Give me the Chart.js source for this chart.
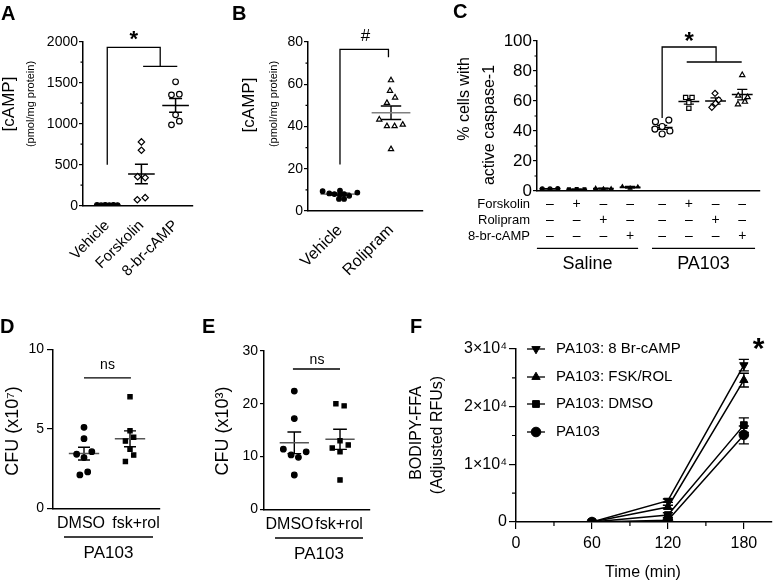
<!DOCTYPE html>
<html>
<head>
<meta charset="utf-8">
<script src="https://cdn.jsdelivr.net/npm/chart.js@4.4.6/dist/chart.umd.min.js"></script>
<style>
  html, body { margin: 0; padding: 0; background: #fff; }
  #wrap { position: relative; width: 777px; height: 582px; overflow: hidden; }
  #wrap canvas { position: absolute; left: 0; top: 0; }
</style>
</head>
<body>
<div id="wrap"></div>
<script>
// ---- data ----
// A: cAMP after forskolin / 8-br-cAMP
const A_CATS = ['Vehicle', 'Forskolin', '8-br-cAMP'];
const A_VEHICLE = [8, 5, 10, 6, 9, 7];
const A_VEHICLE_JIT = [-0.3, -0.18, -0.06, 0.06, 0.18, 0.3];
const A_FSK = [778, 676, 354, 342, 73, 98];
const A_FSK_JIT = [0, 0, -0.11, 0.11, -0.12, 0.11];
const A_BR = [1511, 1352, 1360, 1108, 986, 1031];
const A_BR_JIT = [0, -0.12, 0.11, 0, -0.12, 0.11];
const A_MEAN = [7, 387, 1223];
const A_SEM = [1, 118, 84];
const A_YTICKS = [0, 500, 1000, 1500, 2000];
const A_YMINOR = [250, 750, 1250, 1750];
const A_BRACKET = [{x: 1, y: 500}, {x: 1, y: 1930}, {x: 2.55, y: 1930}, {x: 2.55, y: 1700},
  {x: 1, y: null}, {x: 2.05, y: 1700}, {x: 3.05, y: 1700}];

// B: rolipram
const B_CATS = ['Vehicle', 'Rolipram'];
const B_VEH = [9.4, 8.3, 8.0, 9.6, 7.6, 8.0, 7.2, 5.7, 5.7, 8.7];
const B_VEH_JIT = [-0.34, -0.21, -0.11, 0, 0, 0.08, 0.18, 0.08, -0.02, 0.34];
const B_ROL = [61.9, 56.9, 53.7, 51.2, 43.3, 40.2, 40.2, 40.9, 29.3];
const B_ROL_JIT = [0, -0.02, 0.08, -0.08, -0.23, -0.08, 0.07, 0.23, 0];
const B_MEAN = [8.0, 46.5];
const B_SEM = [0.4, 3.2];
const B_YTICKS = [0, 20, 40, 60, 80];
const B_YMINOR = [10, 30, 50, 70];
const B_BRACKET = [{x: 1, y: 22}, {x: 1, y: 76.5}, {x: 1.95, y: 76.5}, {x: 1.95, y: 72.8}];

// C: % cells with active caspase-1
const C_POS = [0, 1, 2, 3, 4.2, 5.2, 6.2, 7.2];
const C_VALUES = [
  [1.5, 1.4, 1.6], [1.1, 1.3, 1.2], [1.8, 1.4, 1.5], [2.9, 1.9, 2.7],
  [46.2, 47.3, 41.3, 40.0, 38.0, 43.0], [62.4, 62.4, 58.9, 55.1],
  [65.1, 60.7, 58.4, 55.8], [77.3, 63.6, 62.6, 57.8, 59.5],
];
const C_JIT = [
  [-0.29, 0, 0.29], [-0.29, 0, 0.29], [-0.29, 0, 0.29], [-0.29, 0, 0.29],
  [-0.25, 0.25, -0.27, 0.29, 0, 0], [-0.12, 0.12, 0, 0],
  [-0.02, 0.12, 0, -0.14], [0, -0.15, 0.2, -0.16, 0.1],
];
const C_MEAN = [1.5, 1.2, 1.6, 2.5, 42.4, 59.7, 60.0, 64.3];
const C_SEM = [0.1, 0.1, 0.3, 0.6, 1.3, 1.8, 2.1, 3.5];
const C_STYLES = ['circle', 'rect', 'triangle', 'triangle', 'circle', 'rect', 'rectRot', 'triangle'];
const C_FSK = ['–', '+', '–', '–', '–', '+', '–', '–'];
const C_ROL = ['–', '–', '+', '–', '–', '–', '+', '–'];
const C_BR = ['–', '–', '–', '+', '–', '–', '–', '+'];
const C_YTICKS = [0, 20, 40, 60, 80, 100];
const C_YMINOR = [10, 30, 50, 70, 90];
const C_BRACKET = [{x: 4.2, y: 48.7}, {x: 4.2, y: 96}, {x: 6.22, y: 96}, {x: 6.22, y: 86},
  {x: 4.2, y: null}, {x: 5.12, y: 86}, {x: 7.18, y: 86}];

// D / E: CFU
const DE_CATS = ['DMSO', 'fsk+rol'];
const D_LABEL_AT = [0.935, 2.13];
const E_LABEL_AT = [0.895, 1.98];
const D_DMSO = [5.09, 4.38, 3.40, 3.56, 3.19, 2.10, 2.29];
const D_DMSO_JIT = [0, 0, -0.16, 0.17, 0, -0.09, 0.08];
const D_FR = [7.02, 4.88, 4.23, 4.47, 3.71, 3.35, 2.94];
const D_FR_JIT = [0, 0, -0.1, 0.08, 0, 0.08, -0.1];
const D_MEAN = [3.44, 4.37];
const D_SEM = [0.40, 0.50];
const D_YTICKS = [0, 5, 10];
const E_DMSO = [22.4, 17.2, 11.4, 10.9, 10.3, 9.85, 6.5];
const E_DMSO_JIT = [0, 0, -0.24, 0.26, -0.07, 0.09, 0];
const E_FR = [20.0, 19.6, 13.0, 11.6, 12.2, 10.9, 5.56];
const E_FR_JIT = [-0.09, 0.09, 0, -0.17, 0.18, 0, 0];
const E_MEAN = [12.6, 13.26];
const E_SEM = [2.05, 1.9];
const E_YTICKS = [0, 10, 20, 30];

// F: BODIPY-FFA time course
const F_TIME = [60, 120, 180];
const F_NAMES = ['PA103: 8 Br-cAMP', 'PA103: FSK/ROL', 'PA103: DMSO', 'PA103'];
const F_BR = [0, 3700, 27200];
const F_FSK = [0, 2600, 24600];
const F_DMSO = [0, 1200, 16800];
const F_PA = [0, 300, 15100];
const F_BR_SEM = [0, 300, 1000];
const F_FSK_SEM = [0, 300, 1200];
const F_DMSO_SEM = [0, 400, 1250];
const F_PA_SEM = [0, 200, 1550];
const F_XTICKS = [0, 60, 120, 180];
const F_XMINOR = [30, 90, 150];
const F_YTICKS = [0, 10000, 20000, 30000];
const F_YMINOR = [5000, 15000, 25000];

// ---- helpers ----
const FONT = "'Liberation Sans', Arial, sans-serif";
const W = 777, H = 582;
const wrap = document.getElementById('wrap');

function makeChart(area, yW, xH, config) {
  const c = document.createElement('canvas');
  c.width = W; c.height = H;
  wrap.appendChild(c);
  config.options.responsive = false;
  config.options.animation = false;
  config.options.devicePixelRatio = 1;
  config.options.layout = { padding: { left: area.l - yW, top: area.t, right: W - area.r, bottom: H - area.b - xH } };
  config.options.plugins = { legend: { display: false }, tooltip: { enabled: false }, colors: { enabled: false } };
  return new Chart(c, config);
}

function yAxis(min, max, ticks, o) {
  return {
    type: 'linear', min, max,
    afterBuildTicks: (s) => { s.ticks = ticks.map((value) => ({ value })); },
    afterFit: (s) => { s.width = o.w; },
    border: { color: '#000', width: 1.5 },
    grid: { drawOnChartArea: false, tickLength: o.tick, color: '#000', lineWidth: 1.2 },
    ticks: { color: '#000', font: { family: FONT, size: o.size }, padding: o.pad,
      callback: o.fmt || ((v) => String(v)) },
  };
}

function xAxis(min, max, ticks, labels, o) {
  return {
    type: 'linear', min, max,
    afterBuildTicks: (s) => { s.ticks = ticks.map((value) => ({ value })); },
    afterFit: (s) => { s.height = o.h; },
    border: { color: '#000', width: 1.5 },
    grid: { drawOnChartArea: false, drawTicks: !!o.tick, tickLength: o.tick || 0, color: '#000', lineWidth: 1.2 },
    ticks: { display: !!labels, color: '#000', font: { family: FONT, size: o.size || 12 }, padding: o.pad || 0,
      autoSkip: false, maxRotation: o.rot || 0, minRotation: o.rot || 0,
      callback: (v, i) => (labels ? labels[i] : '') },
  };
}

function pts(values, jit, pos, style, r, fill) {
  return {
    type: 'scatter',
    data: values.map((v, i) => ({ x: pos + jit[i], y: v })),
    pointStyle: style, pointRadius: r, pointBorderWidth: 1.2,
    pointBorderColor: '#000', pointBackgroundColor: fill ? '#000' : '#fff',
    borderColor: '#000', backgroundColor: fill ? '#000' : '#fff',
  };
}

function path(data, width, color) {
  return { type: 'line', data, borderColor: color || '#000', backgroundColor: color || '#000',
    borderWidth: width, pointRadius: 0, spanGaps: false, fill: false, tension: 0 };
}

function meanBars(pos, means, half) {
  const out = [];
  pos.forEach((p, i) => out.push({ x: p - half, y: means[i] }, { x: p + half, y: means[i] }, { x: p, y: null }));
  return out;
}

function semBars(pos, means, sems, cap) {
  const out = [];
  pos.forEach((p, i) => {
    const hi = means[i] + sems[i], lo = means[i] - sems[i];
    out.push({ x: p - cap, y: hi }, { x: p + cap, y: hi }, { x: p, y: null },
      { x: p, y: hi }, { x: p, y: lo }, { x: p, y: null },
      { x: p - cap, y: lo }, { x: p + cap, y: lo }, { x: p, y: null });
  });
  return out;
}

function text(ctx, str, x, y, size, o = {}) {
  ctx.save();
  ctx.font = `${o.bold ? 'bold ' : ''}${size}px ${FONT}`;
  ctx.fillStyle = '#000';
  ctx.textAlign = o.align || 'center';
  ctx.textBaseline = o.baseline || 'middle';
  ctx.translate(x, y);
  if (o.rot) ctx.rotate(o.rot);
  ctx.fillText(str, 0, 0);
  ctx.restore();
}

function star(ctx, x, y, size) {
  text(ctx, '*', x, y + 0.22 * size, size, { bold: true });
}

function hline(ctx, x1, x2, y) {
  ctx.save();
  ctx.strokeStyle = '#000';
  ctx.lineWidth = 1.3;
  ctx.beginPath(); ctx.moveTo(x1, y); ctx.lineTo(x2, y); ctx.stroke();
  ctx.restore();
}

function minorTicks(chart, axis, values, len) {
  const s = chart.scales[axis], ctx = chart.ctx;
  ctx.save();
  ctx.strokeStyle = '#000';
  ctx.lineWidth = 1.2;
  ctx.beginPath();
  values.forEach((v) => {
    const p = s.getPixelForValue(v);
    if (axis === 'y') { ctx.moveTo(s.right - len, p); ctx.lineTo(s.right, p); }
    else { ctx.moveTo(p, s.top); ctx.lineTo(p, s.top + len); }
  });
  ctx.stroke();
  ctx.restore();
}

const ROT = -Math.PI / 2;

// ---- A ----
makeChart({ l: 83, r: 193, t: 41.7, b: 205.7 }, 40, 85, {
  type: 'scatter',
  data: { datasets: [
    pts(A_VEHICLE, A_VEHICLE_JIT, 1, 'circle', 2.4, true),
    pts(A_FSK, A_FSK_JIT, 2, 'rectRot', 3.2, false),
    pts(A_BR, A_BR_JIT, 3, 'circle', 2.8, false),
    path(meanBars([1, 2, 3], A_MEAN, 0.39), 1.5),
    path(semBars([1, 2, 3], A_MEAN, A_SEM, 0.19), 1.5),
    path(A_BRACKET, 1.3),
  ] },
  options: { scales: {
    x: xAxis(0.29, 3.51, [1, 2, 3], A_CATS, { h: 85, size: 15, pad: 11, rot: 45 }),
    y: yAxis(0, 2000, A_YTICKS, { w: 40, size: 14, tick: 4, pad: 1 }),
  } },
  plugins: [{ id: 'notesA', afterDraw(c) {
    const ctx = c.ctx, x = c.scales.x, y = c.scales.y;
    minorTicks(c, 'y', A_YMINOR, 2.5);
    text(ctx, 'A', 1, 20, 20, { bold: true, align: 'left', baseline: 'alphabetic' });
    text(ctx, '[cAMP]', 9, 104, 17, { rot: ROT });
    text(ctx, '(pmol/mg protein)', 31, 104, 11, { rot: ROT });
    star(ctx, x.getPixelForValue(1.775), y.getPixelForValue(1930) - 12, 22);
  } }],
});

// ---- B ----
makeChart({ l: 308, r: 423, t: 42, b: 211 }, 35, 85, {
  type: 'scatter',
  data: { datasets: [
    pts(B_VEH, B_VEH_JIT, 1, 'circle', 2.3, true),
    pts(B_ROL, B_ROL_JIT, 2, 'triangle', 3, false),
    path(meanBars([1, 2], B_MEAN, 0.38), 1.6, '#808080'),
    path(semBars([1, 2], B_MEAN, B_SEM, 0.2), 1.4),
    path(B_BRACKET, 1.3),
  ] },
  options: { scales: {
    x: xAxis(0.373, 2.627, [1, 2], B_CATS, { h: 85, size: 16, pad: 10, rot: 45 }),
    y: yAxis(0, 80, B_YTICKS, { w: 35, size: 14, tick: 4, pad: 1 }),
  } },
  plugins: [{ id: 'notesB', afterDraw(c) {
    const ctx = c.ctx, x = c.scales.x, y = c.scales.y;
    minorTicks(c, 'y', B_YMINOR, 2.5);
    text(ctx, 'B', 232, 20, 20, { bold: true, align: 'left', baseline: 'alphabetic' });
    text(ctx, '[cAMP]', 249, 105, 17, { rot: ROT });
    text(ctx, '(pmol/mg protein)', 274, 104, 11, { rot: ROT });
    text(ctx, '#', x.getPixelForValue(1.5), y.getPixelForValue(76.5) - 13, 17);
  } }],
});

// ---- C ----
const cSets = C_VALUES.map((vals, g) => pts(vals, C_JIT[g], C_POS[g], C_STYLES[g], g < 4 ? 2 : 3, g < 4));
makeChart({ l: 537, r: 760, t: 41, b: 191 }, 40, 0, {
  type: 'scatter',
  data: { datasets: [
    ...cSets,
    path(meanBars(C_POS, C_MEAN, 0.39), 1.5),
    path(semBars(C_POS, C_MEAN, C_SEM, 0.19), 1.3),
    path(C_BRACKET, 1.3),
  ] },
  options: { scales: {
    x: xAxis(-0.487, 7.865, [], null, { h: 0 }),
    y: yAxis(0, 100, C_YTICKS, { w: 40, size: 17, tick: 4, pad: 1 }),
  } },
  plugins: [{ id: 'notesC', afterDraw(c) {
    const ctx = c.ctx, x = c.scales.x, y = c.scales.y;
    minorTicks(c, 'y', C_YMINOR, 2.5);
    text(ctx, 'C', 453, 18, 20, { bold: true, align: 'left', baseline: 'alphabetic' });
    text(ctx, '% cells with', 465, 99, 16, { rot: ROT });
    text(ctx, 'active caspase-1', 490, 125, 16, { rot: ROT });
    star(ctx, x.getPixelForValue(5.21), y.getPixelForValue(96) - 10, 24);
    const rows = [['Forskolin', C_FSK, 204], ['Rolipram', C_ROL, 220], ['8-br-cAMP', C_BR, 236]];
    rows.forEach(([name, signs, ry]) => {
      text(ctx, name, 530, ry, 13, { align: 'right' });
      signs.forEach((s, i) => text(ctx, s, x.getPixelForValue(C_POS[i]), ry, 14));
    });
    hline(ctx, x.getPixelForValue(-0.49), x.getPixelForValue(3.3), 248.3);
    hline(ctx, x.getPixelForValue(3.82), x.getPixelForValue(7.68), 248.3);
    text(ctx, 'Saline', (x.getPixelForValue(-0.49) + x.getPixelForValue(3.3)) / 2, 264, 18);
    text(ctx, 'PA103', (x.getPixelForValue(3.82) + x.getPixelForValue(7.68)) / 2, 264, 18);
  } }],
});

// ---- D ----
makeChart({ l: 53, r: 160, t: 349.3, b: 508.3 }, 30, 30, {
  type: 'scatter',
  data: { datasets: [
    pts(D_DMSO, D_DMSO_JIT, 1, 'circle', 2.8, true),
    pts(D_FR, D_FR_JIT, 2, 'rect', 3, true),
    path(meanBars([1, 2], D_MEAN, 0.33), 1.5, '#555'),
    path(semBars([1, 2], D_MEAN, D_SEM, 0.13), 1.4),
    path([{ x: 1, y: 8.2 }, { x: 2.02, y: 8.2 }], 1.4),
  ] },
  options: { scales: {
    x: xAxis(0.326, 2.652, D_LABEL_AT, DE_CATS, { h: 30, size: 16, pad: 6 }),
    y: yAxis(0, 10, D_YTICKS, { w: 30, size: 14, tick: 6, pad: 3 }),
  } },
  plugins: [{ id: 'notesD', afterDraw(c) {
    const ctx = c.ctx, x = c.scales.x;
    text(ctx, 'D', 0, 333, 20, { bold: true, align: 'left', baseline: 'alphabetic' });
    text(ctx, 'CFU (x10⁷)', 13, 431, 18, { rot: ROT });
    text(ctx, 'ns', 107.5, 365, 14);
    hline(ctx, x.getPixelForValue(0.565), x.getPixelForValue(2.5), 537);
    text(ctx, 'PA103', (x.getPixelForValue(0.565) + x.getPixelForValue(2.5)) / 2, 553, 17);
  } }],
});

// ---- E ----
makeChart({ l: 264, r: 370, t: 351, b: 509.3 }, 30, 30, {
  type: 'scatter',
  data: { datasets: [
    pts(E_DMSO, E_DMSO_JIT, 1, 'circle', 2.8, true),
    pts(E_FR, E_FR_JIT, 2, 'rect', 3, true),
    path(meanBars([1, 2], E_MEAN, 0.32), 1.5, '#555'),
    path(semBars([1, 2], E_MEAN, E_SEM, 0.15), 1.4),
    path([{ x: 0.97, y: 26.6 }, { x: 2.0, y: 26.6 }], 1.4),
  ] },
  options: { scales: {
    x: xAxis(0.337, 2.656, E_LABEL_AT, DE_CATS, { h: 30, size: 16, pad: 6 }),
    y: yAxis(0, 30, E_YTICKS, { w: 30, size: 14, tick: 4, pad: 2 }),
  } },
  plugins: [{ id: 'notesE', afterDraw(c) {
    const ctx = c.ctx, x = c.scales.x;
    text(ctx, 'E', 202, 333, 20, { bold: true, align: 'left', baseline: 'alphabetic' });
    text(ctx, 'CFU (x10³)', 223, 431, 18, { rot: ROT });
    text(ctx, 'ns', 317, 360, 14);
    hline(ctx, x.getPixelForValue(0.578), x.getPixelForValue(2.503), 538);
    text(ctx, 'PA103', (x.getPixelForValue(0.578) + x.getPixelForValue(2.503)) / 2, 554, 17);
  } }],
});

// ---- F ----
const F_SERIES = [
  { vals: F_BR, sem: F_BR_SEM, style: 'triangle', rot: 180 },
  { vals: F_FSK, sem: F_FSK_SEM, style: 'triangle', rot: 0 },
  { vals: F_DMSO, sem: F_DMSO_SEM, style: 'rect', rot: 0 },
  { vals: F_PA, sem: F_PA_SEM, style: 'circle', rot: 0 },
];
const fLines = F_SERIES.map((s, i) => ({
  type: 'line', label: F_NAMES[i],
  data: F_TIME.map((t, k) => ({ x: t, y: s.vals[k] })),
  borderColor: '#000', backgroundColor: '#000', borderWidth: 1.5, tension: 0,
  pointStyle: s.style, pointRotation: s.rot, pointRadius: 4.8,
  pointBackgroundColor: '#000', pointBorderColor: '#000', pointBorderWidth: 1,
}));
const fErr = F_SERIES.map((s) => path(semBars(F_TIME, s.vals, s.sem, 4), 1.4));
makeChart({ l: 516, r: 777, t: 349, b: 522 }, 60, 30, {
  type: 'scatter',
  data: { datasets: [...fLines, ...fErr] },
  options: { scales: {
    x: xAxis(0, 201.6, F_XTICKS, F_XTICKS.map(String), { h: 30, size: 16, pad: 5, tick: 7 }),
    y: yAxis(0, 30000, F_YTICKS, { w: 60, size: 16, tick: 7, pad: 2,
      fmt: (v) => (v === 0 ? '0' : `${v / 10000}×10⁴`) }),
  } },
  plugins: [{ id: 'notesF', afterDraw(c) {
    const ctx = c.ctx, x = c.scales.x;
    minorTicks(c, 'y', F_YMINOR, 4);
    minorTicks(c, 'x', F_XMINOR, 4);
    text(ctx, 'F', 410, 333, 20, { bold: true, align: 'left', baseline: 'alphabetic' });
    text(ctx, 'BODIPY-FFA', 417, 433, 16, { rot: ROT });
    text(ctx, '(Adjusted RFUs)', 438, 435, 16, { rot: ROT });
    text(ctx, 'Time (min)', 643, 573, 16);
    star(ctx, x.getPixelForValue(191.6), 343, 30);
    const rowsY = [349, 377, 404, 432];
    F_SERIES.forEach((s, i) => {
      hline(ctx, 527, 545, rowsY[i]);
      ctx.save();
      ctx.fillStyle = '#000'; ctx.strokeStyle = '#000';
      Chart.helpers.drawPoint(ctx, { pointStyle: s.style, rotation: s.rot, radius: 4.8, borderWidth: 1 }, 536, rowsY[i]);
      ctx.restore();
      text(ctx, F_NAMES[i], 556, rowsY[i], 15, { align: 'left' });
    });
  } }],
});
</script>
</body>
</html>
